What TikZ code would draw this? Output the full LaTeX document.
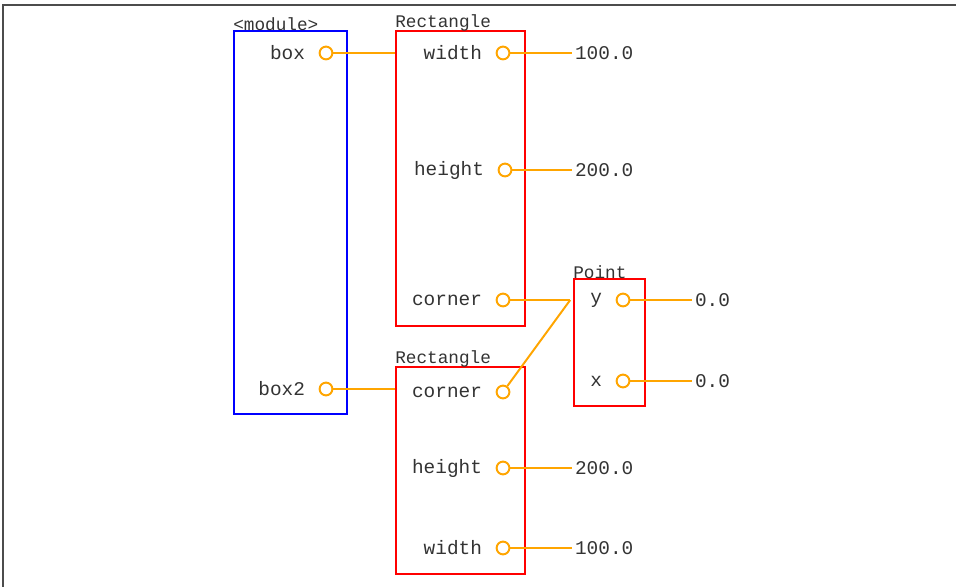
\documentclass[tikz,border=0pt]{standalone}
\usepackage{fontspec}
\setmonofont{Liberation Mono}
\usetikzlibrary{positioning}
\definecolor{wire}{HTML}{FFA500}
\definecolor{ink}{HTML}{333333}

\begin{document}
\begin{tikzpicture}[
  every node/.style={font=\ttfamily\fontsize{13.8}{16}\selectfont, text=ink},
  title/.style={font=\ttfamily\fontsize{12.6}{14}\selectfont, inner sep=0pt, yshift=-1pt, anchor=south west},
  modbox/.style={draw=blue, line width=1.4pt},
  objbox/.style={draw=red, line width=1.4pt},
  port/.style={circle, draw=wire, line width=1.4pt, inner sep=0pt, minimum size=0.32cm},
  field/.style={inner sep=1pt},
  val/.style={anchor=west, inner sep=2pt},
  link/.style={draw=wire, line width=1.4pt},
  edge/.style={draw=black!70, line width=1pt}
]
\useasboundingbox (0,0) rectangle (23.9,-14.675);

% Frame edges
\draw[edge] (0.075,-14.675) -- (0.075,-0.125) -- (23.9,-0.125);

% Object boxes
\node[modbox, minimum width=2.825cm, minimum height=9.575cm] (mod) at (7.2625, -5.5625) {};
\node[objbox, minimum width=3.225cm, minimum height=7.375cm] (rect1) at (11.5125, -4.4625) {};
\node[objbox, minimum width=3.225cm, minimum height=5.175cm] (rect2) at (11.5125, -11.7625) {};
\node[objbox, minimum width=1.775cm, minimum height=3.175cm] (pt) at (15.2375, -8.5625) {};

% Box titles
\node[title] (tmod) at (mod.north west) {<module>};
\node[title] (trect1) at (rect1.north west) {Rectangle};
\node[title] (trect2) at (rect2.north west) {Rectangle};
\node[title] (tpt) at (pt.north west) {Point};

% Ports - module
\node[port] (pbox) at (8.15, -1.325) {};
\node[port] (pbox2) at (8.15, -9.725) {};
\node[field, left=0.3cm of pbox] (lbox) {box};
\node[field, left=0.3cm of pbox2] (lbox2) {box2};

% Ports - first Rectangle
\node[port] (r1w) at (12.575, -1.325) {};
\node[port] (r1h) at (12.625, -4.25) {};
\node[port] (r1c) at (12.575, -7.5) {};
\node[field, left=0.3cm of r1w] (l1w) {width};
\node[field, left=0.3cm of r1h] (l1h) {height};
\node[field, left=0.3cm of r1c] (l1c) {corner};

% Ports - second Rectangle
\node[port] (r2c) at (12.575, -9.8) {};
\node[port] (r2h) at (12.575, -11.7) {};
\node[port] (r2w) at (12.575, -13.7) {};
\node[field, left=0.3cm of r2c] (l2c) {corner};
\node[field, left=0.3cm of r2h] (l2h) {height};
\node[field, left=0.3cm of r2w] (l2w) {width};

% Ports - Point
\node[port] (pty) at (15.575, -7.5) {};
\node[port] (ptx) at (15.575, -9.525) {};
\node[field, left=0.3cm of pty] (ly) {y};
\node[field, left=0.3cm of ptx] (lx) {x};

% Values
\node[val] (v1w) at (14.3, -1.325) {100.0};
\node[val] (v1h) at (14.3, -4.25) {200.0};
\node[val] (v2h) at (14.3, -11.7) {200.0};
\node[val] (v2w) at (14.3, -13.7) {100.0};
\node[val] (vy) at (17.3, -7.5) {0.0};
\node[val] (vx) at (17.3, -9.525) {0.0};

% Links from module to rectangles
\draw[link] (pbox) -- (pbox -| rect1.west);
\draw[link] (pbox2) -- (pbox2 -| rect2.west);

% Links to values
\draw[link] (r1w) -- (v1w);
\draw[link] (r1h) -- (v1h);
\draw[link] (r2h) -- (v2h);
\draw[link] (r2w) -- (v2w);
\draw[link] (pty) -- (vy);
\draw[link] (ptx) -- (vx);

% Links from corners to the Point
\coordinate (ptin) at ([xshift=-2pt]pt.west |- pty);
\draw[link] (r1c) -- (ptin);
\draw[link] (r2c) -- (ptin);

\end{tikzpicture}
\end{document}
